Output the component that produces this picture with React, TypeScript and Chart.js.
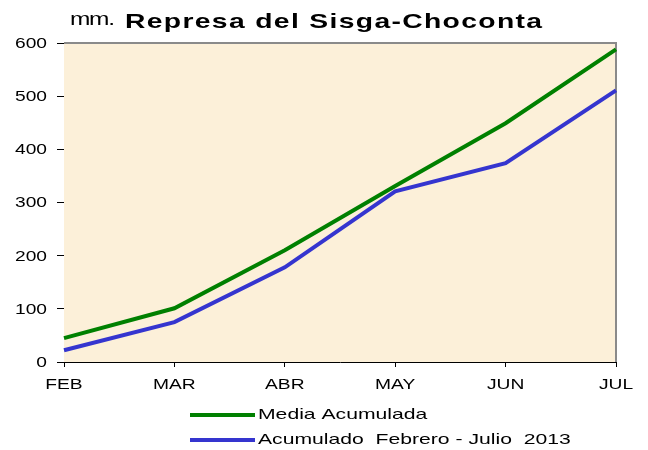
import { useEffect, useRef } from "react";
import { Chart, registerables } from "chart.js";

Chart.register(...registerables);

const categories = ["FEB", "MAR", "ABR", "MAY", "JUN", "JUL"];
const mediaAcumulada = [45, 101, 210, 331, 449, 588];
const acumulado2013 = [22, 75, 178, 321, 374, 511];
const seriesLabels = ["Media Acumulada", "Acumulado  Febrero - Julio  2013"];
const seriesColors = ["#008000", "#3535cf"];
const titleText = "Represa del Sisga-Choconta";
const unitText = "mm.";
const yMin = 0;
const yMax = 600;
const yStep = 100;

const FONT = "'Liberation Sans', Arial, sans-serif";

function stretchedText(ctx: any, text: string, x: number, y: number, align: string, sx: number) {
  ctx.save();
  ctx.translate(x, y);
  ctx.scale(sx, 1);
  ctx.textAlign = align;
  ctx.fillText(text, 0, 0);
  ctx.restore();
}

function fitText(ctx: any, text: string, x: number, y: number, width: number, spacing: number) {
  ctx.save();
  ctx.letterSpacing = spacing + "px";
  const w = ctx.measureText(text).width - spacing;
  stretchedText(ctx, text, x, y, "left", width / w);
  ctx.restore();
}

const decorPlugin = {
  id: "decor",
  beforeDatasetsDraw(chart: any) {
    const { ctx, chartArea: a } = chart;
    ctx.save();
    ctx.fillStyle = "#fcf0d9";
    ctx.fillRect(a.left, a.top, a.right - a.left, a.bottom - a.top);
    ctx.strokeStyle = "#8a8a8a";
    ctx.lineWidth = 2;
    ctx.beginPath();
    ctx.moveTo(a.left, a.top);
    ctx.lineTo(a.right, a.top);
    ctx.lineTo(a.right, a.bottom);
    ctx.stroke();
    ctx.restore();
  },
  afterDraw(chart: any) {
    const { ctx } = chart;
    const xs = chart.scales.x;
    const ys = chart.scales.y;
    ctx.save();
    ctx.fillStyle = "#000";

    // y tick labels
    ctx.font = "14px " + FONT;
    ctx.textBaseline = "middle";
    ys.ticks.forEach((t: any, i: number) => {
      stretchedText(ctx, String(t.label), ys.right - 17, ys.getPixelForTick(i) + 1, "right", 1.37);
    });

    // x tick labels
    ctx.font = "15px " + FONT;
    ctx.textBaseline = "alphabetic";
    xs.ticks.forEach((t: any, i: number) => {
      stretchedText(ctx, String(t.label), xs.getPixelForTick(i), xs.top + 27, "center", 1.28);
    });

    // unit + title
    ctx.textBaseline = "alphabetic";
    ctx.font = "19px " + FONT;
    fitText(ctx, unitText, 70, 25, 45, -1);
    ctx.font = "bold 21px " + FONT;
    fitText(ctx, titleText, 125, 28, 417, 1);

    // legend
    ctx.font = "15px " + FONT;
    ctx.textBaseline = "middle";
    chart.data.datasets.forEach((ds: any, i: number) => {
      const y = 415 + i * 25;
      ctx.strokeStyle = ds.borderColor;
      ctx.lineWidth = 4;
      ctx.beginPath();
      ctx.moveTo(190, y);
      ctx.lineTo(255, y);
      ctx.stroke();
      ctx.fillStyle = "#000";
      stretchedText(ctx, ds.label, 258, y, "left", 1.41);
    });
    ctx.restore();
  },
};

export default function App() {
  const ref = useRef<HTMLCanvasElement>(null);
  useEffect(() => {
    document.body.style.margin = "0";
    const chart = new Chart(ref.current!, {
      type: "line",
      data: {
        labels: categories,
        datasets: [
          {
            label: seriesLabels[0],
            data: mediaAcumulada,
            borderColor: seriesColors[0],
            backgroundColor: seriesColors[0],
            borderWidth: 4,
            pointRadius: 0,
            tension: 0,
          },
          {
            label: seriesLabels[1],
            data: acumulado2013,
            borderColor: seriesColors[1],
            backgroundColor: seriesColors[1],
            borderWidth: 4,
            pointRadius: 0,
            tension: 0,
          },
        ],
      },
      options: {
        responsive: false,
        animation: false,
        devicePixelRatio: 1,
        layout: { padding: { left: 0, top: 43, right: 32, bottom: 0 } },
        plugins: { legend: { display: false }, title: { display: false }, tooltip: { enabled: false } },
        scales: {
          x: {
            type: "category",
            offset: false,
            afterFit: (s: any) => {
              s.height = 88;
            },
            grid: { display: true, drawOnChartArea: false, drawTicks: true, tickLength: 5, color: "#000" },
            border: { display: true, color: "#000", width: 1 },
            ticks: { display: false },
          },
          y: {
            min: yMin,
            max: yMax,
            afterFit: (s: any) => {
              s.width = 64;
            },
            grid: { display: true, drawOnChartArea: false, drawTicks: true, tickLength: 7, color: "#000" },
            border: { display: true, color: "#000", width: 1 },
            ticks: { stepSize: yStep, display: false },
          },
        },
      },
      plugins: [decorPlugin],
    });
    return () => chart.destroy();
  }, []);
  return (
    <div style={{ position: "absolute", left: 0, top: 0, width: 648, height: 450, background: "#fff" }}>
      <canvas ref={ref} width={648} height={450} />
    </div>
  );
}
